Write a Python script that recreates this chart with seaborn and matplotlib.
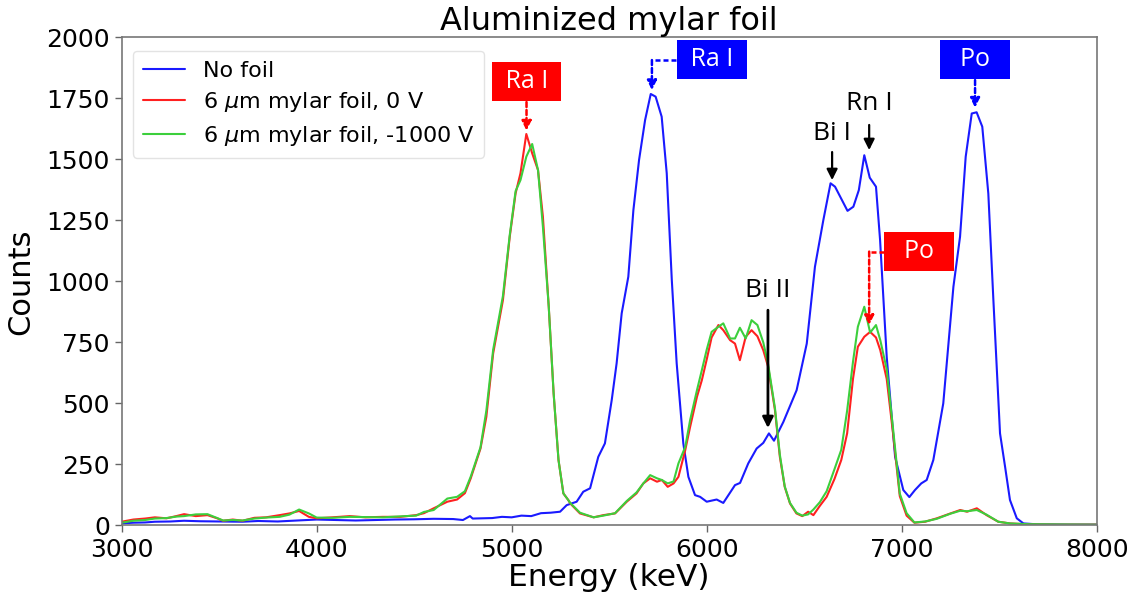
import matplotlib
matplotlib.use("Agg")
import matplotlib.pyplot as plt
import seaborn as sns
import pandas as pd

# ---------------- data ----------------
foil_energy = [3000, 3060, 3120, 3170, 3230, 3280, 3320, 3380, 3440, 3490, 3520, 3570, 3620, 3680,
               3740, 3810, 3860, 3910, 3960, 4000, 4080, 4170, 4250, 4340, 4430, 4510, 4550, 4600,
               4670, 4720, 4760, 4790, 4840, 4870, 4905, 4955, 4990, 5020, 5045, 5075, 5105, 5135,
               5160, 5190, 5215, 5240, 5265, 5290, 5300, 5350, 5420, 5470, 5530, 5590, 5640, 5675,
               5710, 5745, 5770, 5800, 5830, 5855, 5890, 5915, 5950, 5975, 6000, 6025, 6060, 6085,
               6120, 6145, 6170, 6200, 6230, 6260, 6290, 6315, 6350, 6375, 6400, 6427, 6460, 6490,
               6520, 6547, 6580, 6615, 6655, 6690, 6720, 6750, 6775, 6808, 6838, 6868, 6890, 6923,
               6955, 6990, 7025, 7065, 7120, 7180, 7250, 7300, 7335, 7385, 7435, 7495, 7555, 7650,
               7800, 8000]
foil_0V = [15, 24, 28, 33, 29, 38, 46, 38, 42, 29, 19, 24, 19, 31,
           33, 42, 49, 59, 35, 29, 33, 38, 33, 35, 35, 42, 50, 70,
           97, 106, 132, 193, 315, 445, 705, 923, 1183, 1361, 1443, 1604, 1525, 1456,
           1265, 896, 541, 268, 131, 104, 90, 49, 33, 42, 49, 97, 131, 172,
           193, 179, 186, 158, 172, 199, 309, 404, 527, 595, 680, 770, 821, 800,
           759, 745, 677, 773, 800, 775, 718, 650, 472, 281, 158, 90, 49, 38,
           56, 42, 80, 117, 190, 268, 377, 600, 732, 773, 793, 770, 718, 600,
           380, 120, 40, 11, 15, 29, 49, 63, 56, 70, 42, 15, 8, 4,
           3, 3]
foil_1000V = [11, 19, 22, 28, 30, 36, 38, 45, 46, 30, 20, 22, 20, 28,
              32, 35, 44, 65, 49, 32, 31, 35, 34, 33, 37, 40, 55, 63,
              110, 117, 140, 200, 320, 470, 720, 940, 1190, 1370, 1415, 1511, 1563, 1456,
              1224, 896, 541, 268, 131, 104, 92, 52, 33, 40, 50, 100, 135, 172,
              206, 193, 186, 172, 180, 254, 322, 432, 554, 636, 720, 793, 814, 828,
              766, 766, 810, 766, 841, 821, 750, 660, 480, 290, 160, 92, 52, 40,
              45, 65, 95, 140, 230, 310, 470, 670, 814, 896, 790, 821, 759, 640,
              400, 130, 50, 12, 16, 27, 48, 60, 58, 63, 44, 15, 8, 5,
              4, 3]

nofoil_energy = [3000, 3060, 3120, 3170, 3250, 3320, 3400, 3500, 3620, 3700, 3800, 3900, 4000, 4100,
                 4200, 4300, 4400, 4500, 4600, 4700, 4750, 4786, 4800, 4900, 4950, 5000, 5050, 5100,
                 5150, 5200, 5248, 5282, 5333, 5367, 5402, 5444, 5478, 5513, 5538, 5564, 5598, 5624,
                 5653, 5684, 5713, 5738, 5769, 5795, 5821, 5846, 5880, 5906, 5940, 5966, 6000, 6051,
                 6085, 6145, 6171, 6213, 6256, 6290, 6319, 6345, 6393, 6461, 6513, 6555, 6598, 6635,
                 6658, 6722, 6752, 6780, 6808, 6836, 6868, 6889, 6923, 6966, 7008, 7039, 7068, 7100,
                 7128, 7162, 7213, 7265, 7299, 7328, 7359, 7384, 7413, 7444, 7470, 7504, 7530, 7555,
                 7590, 7624, 7700, 7850, 8000]
nofoil_counts = [8, 11, 12, 15, 16, 19, 17, 16, 15, 18, 16, 20, 24, 22,
                 20, 22, 24, 25, 27, 26, 22, 38, 28, 30, 35, 33, 40, 38,
                 50, 52, 56, 83, 97, 138, 152, 281, 336, 514, 664, 869, 1019, 1292,
                 1497, 1661, 1768, 1757, 1675, 1443, 1005, 664, 336, 199, 124, 117, 97, 106,
                 92, 165, 174, 254, 315, 338, 377, 347, 424, 554, 745, 1060, 1251, 1402,
                 1388, 1289, 1306, 1374, 1517, 1425, 1388, 1169, 691, 281, 145, 116, 145, 172,
                 186, 268, 500, 978, 1183, 1511, 1688, 1693, 1634, 1360, 923, 377, 240, 104,
                 29, 8, 4, 3, 3]

series_labels = ["No foil", r"6 $\mu$m mylar foil, 0 V", r"6 $\mu$m mylar foil, -1000 V"]
series_colors = ["#1a1aff", "#ff2020", "#3ccf3c"]

x_ticks = [3000, 4000, 5000, 6000, 7000, 8000]
y_ticks = [0, 250, 500, 750, 1000, 1250, 1500, 1750, 2000]

# ---------------- build tidy table ----------------
df = pd.concat([
    pd.DataFrame({"Energy": nofoil_energy, "Counts": nofoil_counts, "series": series_labels[0]}),
    pd.DataFrame({"Energy": foil_energy, "Counts": foil_0V, "series": series_labels[1]}),
    pd.DataFrame({"Energy": foil_energy, "Counts": foil_1000V, "series": series_labels[2]}),
], ignore_index=True)

sns.set_theme(style="ticks")
plt.rcParams['font.family'] = ['DejaVu Sans']
plt.rcParams['mathtext.fontset'] = 'dejavusans'
plt.rcParams['text.color'] = 'black'
plt.rcParams['axes.labelcolor'] = 'black'
plt.rcParams['xtick.labelcolor'] = 'black'
plt.rcParams['ytick.labelcolor'] = 'black'

fig = plt.figure(figsize=(11.37, 5.95), dpi=100)
ax = fig.add_axes([0.107, 0.117, 0.8576, 0.8202])

sns.lineplot(data=df, x="Energy", y="Counts", hue="series", hue_order=series_labels,
             palette=series_colors, estimator=None, sort=False, linewidth=1.5, ax=ax)

ax.set_xlim(3000, 8000)
ax.set_ylim(0, 2000)
ax.set_xticks(x_ticks)
ax.set_yticks(y_ticks)
ax.tick_params(axis='both', labelsize=18, length=5, width=1, color='#666666')
ax.tick_params(axis='x', pad=4)
for s in ax.spines.values():
    s.set_color('#777777')
    s.set_linewidth(1.2)
ax.set_xlabel("Energy (keV)", fontsize=22.5, labelpad=1)
ax.set_ylabel("Counts", fontsize=22, labelpad=8)
ax.set_title("Aluminized mylar foil", fontsize=23, pad=4)

leg = ax.legend(loc="upper left", fontsize=16, frameon=True, borderpad=0.45,
                labelspacing=0.42, handlelength=1.9, handletextpad=0.8,
                bbox_to_anchor=(0.0, 0.995))
leg.get_frame().set_edgecolor('#dddddd')
leg.get_frame().set_linewidth(1)
for h in leg.get_lines():
    h.set_linewidth(1.5)

# ---------------- annotations ----------------
afont = ['Open Sans', 'DejaVu Sans']

def box(x, y, txt, color):
    ax.text(x, y, txt, ha='center', va='center', fontsize=18, color='white', family=afont,
            bbox=dict(boxstyle='square,pad=0.28', fc=color, ec='none'), zorder=6)

def darrow(x0, y0, x1, y1, color):
    ax.annotate('', xy=(x1, y1), xytext=(x0, y0),
                arrowprops=dict(arrowstyle='-|>', color=color, lw=1.8, ls=(0, (2, 1.2)),
                                mutation_scale=14, shrinkA=0, shrinkB=0), zorder=6)

def dline(xs, ys, color):
    ax.plot(xs, ys, color=color, lw=1.8, ls=(0, (2, 1.2)), zorder=6)

# red Ra I
box(5076, 1819, " Ra I ", "#ff0000")
darrow(5076, 1735, 5076, 1618, "#ff0000")
# blue Ra I
box(6027, 1911, " Ra I ", "#0000ff")
dline([5842, 5719], [1907, 1907], "#0000ff")
darrow(5719, 1907, 5719, 1784, "#0000ff")
# blue Po
box(7376, 1909, "  Po  ", "#0000ff")
darrow(7376, 1825, 7376, 1712, "#0000ff")
# red Po
box(7086, 1122, "  Po  ", "#ff0000")
dline([6910, 6833], [1122, 1122], "#ff0000")
darrow(6833, 1122, 6833, 821, "#ff0000")

# black labels
def blabel(x, y, txt):
    ax.text(x, y, txt, ha='center', va='center', fontsize=19, color='black', family=afont, zorder=6)

def barrow(x, y0, y1, lw=2.0):
    ax.annotate('', xy=(x, y1), xytext=(x, y0),
                arrowprops=dict(arrowstyle='-|>', color='black', lw=lw,
                                mutation_scale=16, shrinkA=0, shrinkB=0), zorder=6)

blabel(6314, 964, "Bi II")
barrow(6314, 882, 399)
blabel(6643, 1608, "Bi I")
barrow(6643, 1530, 1415, lw=1.6)
blabel(6833, 1727, "Rn I")
barrow(6833, 1641, 1538, lw=1.6)

fig.savefig("out.png", dpi=100)
